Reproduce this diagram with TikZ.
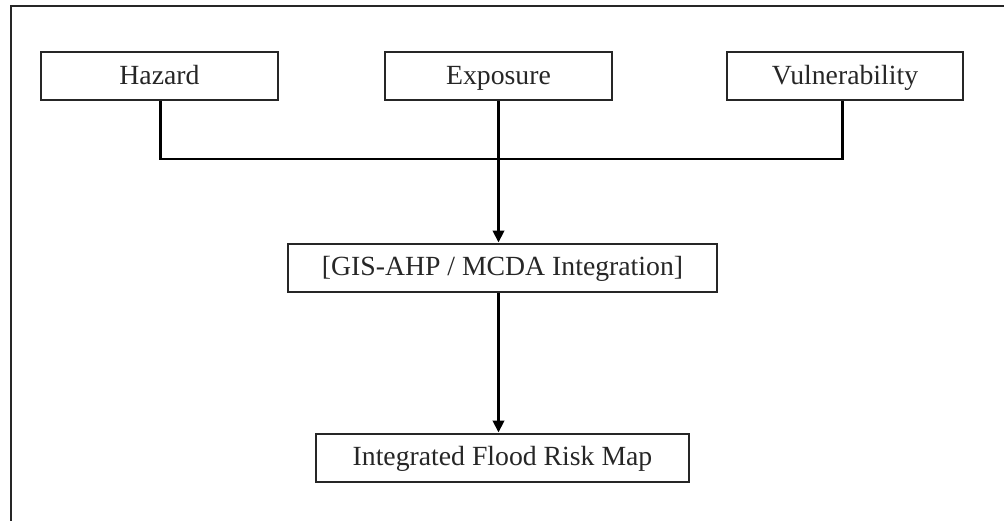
\documentclass[tikz,border=0pt]{standalone}
\usepackage{fontspec}
\setmainfont{Liberation Serif}
\usetikzlibrary{arrows.meta}
\begin{document}
\begin{tikzpicture}[x=0.75pt,y=-0.75pt,
  box/.style={draw=black!85,line width=1.5pt,minimum height=36pt,inner sep=0pt,
    text height=14pt,text depth=2pt,
    font=\fontsize{20.8}{24}\selectfont,text=black!85},
  link/.style={draw=black,line width=2.2pt},
  flow/.style={link,-{Triangle[length=9pt,width=8.5pt]}}]
\useasboundingbox (0,0) rectangle (1004,521);
% outer frame (left and top edges)
\draw[line width=1.6pt,black!85] (11,521) -- (11,6) -- (1004,6);
% input factors
\node[box,minimum width=178pt] (haz) at (159.5,76) {Hazard};
\node[box,minimum width=170pt] (exp) at (498.5,76) {Exposure};
\node[box,minimum width=177pt] (vul) at (845,76) {Vulnerability};
% integration and output
\node[box,minimum width=322pt] (gis) at (502.5,267.5) {[GIS-AHP / MCDA Integration]};
\node[box,minimum width=280pt] (map) at (502.5,457.5) {Integrated Flood Risk Map};
% joining bus
\coordinate (bus) at (499,159);
\draw[link] ([xshift=0.5pt]haz.south) |- (bus);
\draw[link] ([xshift=-2pt]vul.south) |- (bus);
\draw[flow] (exp.south) -- (exp.south |- gis.north);
\draw[flow] (gis.south -| exp.south) -- (map.north -| exp.south);
\end{tikzpicture}
\end{document}
